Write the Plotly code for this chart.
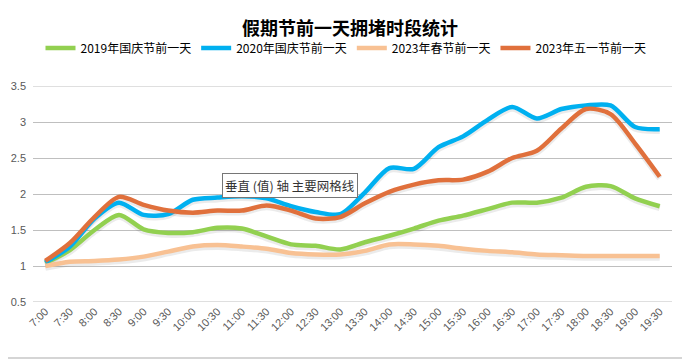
import plotly.graph_objects as go

times = ["7:00","7:30","8:00","8:30","9:00","9:30","10:00","10:30","11:00","11:30",
         "12:00","12:30","13:00","13:30","14:00","14:30","15:00","15:30","16:00","16:30",
         "17:00","17:30","18:00","18:30","19:00","19:30"]

s2019 = [1.04,1.22,1.50,1.71,1.51,1.46,1.47,1.53,1.52,1.41,1.30,1.28,1.23,1.33,1.42,1.52,
         1.63,1.70,1.79,1.88,1.88,1.95,2.10,2.11,1.94,1.83]
s2020 = [1.05,1.27,1.66,1.88,1.71,1.72,1.92,1.95,1.97,1.94,1.83,1.75,1.72,2.02,2.36,2.35,
         2.65,2.80,3.03,3.21,3.05,3.18,3.23,3.23,2.93,2.90]
s2023spring = [1.00,1.06,1.07,1.09,1.13,1.20,1.27,1.29,1.27,1.24,1.18,1.16,1.16,1.21,1.30,1.30,
               1.28,1.24,1.21,1.19,1.16,1.15,1.14,1.14,1.14,1.14]
s2023may = [1.07,1.32,1.68,1.96,1.85,1.77,1.74,1.77,1.77,1.84,1.77,1.66,1.68,1.87,2.03,2.13,
            2.19,2.20,2.31,2.50,2.60,2.91,3.18,3.11,2.70,2.24]

names = ["2019年国庆节前一天", "2020年国庆节前一天", "2023年春节前一天", "2023年五一节前一天"]
colors = ["#92D050", "#00B0F0", "#F8C193", "#E0703C"]
series = [s2019, s2020, s2023spring, s2023may]

SHADOW_DY = 0.025  # soft drop shadow under each line, in data units

fig = go.Figure()
# soft shadows (drawn first, below the lines)
for ys in series:
    fig.add_trace(go.Scatter(
        x=times, y=[v - SHADOW_DY for v in ys], mode="lines", showlegend=False,
        line=dict(color="rgba(0,0,0,0.08)", width=6, shape="spline", smoothing=0.8),
        hoverinfo="skip"))
for name, col, ys in zip(names, colors, series):
    fig.add_trace(go.Scatter(
        x=times, y=ys, name=name, mode="lines",
        line=dict(color=col, width=4.5, shape="spline", smoothing=0.8),
        hoverinfo="skip"))

# the page body adds an 8px margin, so lay out in window pixels minus that offset
OFF = 8
W, H = 690 - OFF, 360 - OFF
PLOT_L, PLOT_R, PLOT_T, PLOT_B = 33, 672, 86, 302  # plot area in window pixels
L = PLOT_L - OFF
T = PLOT_T - OFF
R = W - (PLOT_R - OFF)
B = H - (PLOT_B - OFF)
pw, ph = W - L - R, H - T - B

def px2x(px):
    return (px - PLOT_L) / pw

def py2y(py):
    return (PLOT_B - py) / ph

fig.update_layout(
    width=W, height=H,
    margin=dict(l=L, r=R, t=T, b=B, autoexpand=False),
    paper_bgcolor="white", plot_bgcolor="white",
    font=dict(family="Noto Sans CJK SC, sans-serif", color="#404040"),
    title=dict(text="<b>假期节前一天拥堵时段统计</b>", x=px2x(350), xanchor="center",
               xref="paper",
               y=1 - (29 - OFF) / H, yanchor="middle",
               font=dict(size=18, color="#000000", family="Noto Sans CJK SC")),
    showlegend=True,
    legend=dict(orientation="h", x=px2x(346), xanchor="center", y=py2y(48), yanchor="middle",
                font=dict(size=12, color="#000000", family="Noto Sans CJK SC"),
                itemwidth=30, tracegroupgap=0, bgcolor="rgba(0,0,0,0)"),
    xaxis=dict(type="category", range=[-0.5, 25.5], showgrid=False, automargin=False,
               showline=False, ticks="", tickangle=-45,
               tickfont=dict(size=11, color="#595959", family="Liberation Sans")),
    yaxis=dict(range=[0.5, 3.5], dtick=0.5, tick0=0.5, showgrid=True, automargin=False,
               gridcolor="#BFBFBF", gridwidth=1, zeroline=False, showline=False,
               ticks="", ticklabelstandoff=6,
               tickfont=dict(size=11, color="#595959", family="Liberation Sans")),
)

# gridlines at range edges (0.5 and 3.5) as shapes to be safe
for yv in (0.5, 3.5):
    fig.add_shape(type="line", xref="paper", yref="y", x0=0, x1=1, y0=yv, y1=yv,
                  line=dict(color="#BFBFBF", width=1), layer="below")

# outer chart frame (right and bottom edges visible)
fig.add_shape(type="rect", xref="paper", yref="paper",
              x0=px2x(-2), x1=px2x(688), y0=py2y(358), y1=py2y(1),
              line=dict(color="#C8C8C8", width=1.5), fillcolor="rgba(0,0,0,0)")

# hover tooltip seen in the reference
fig.add_annotation(xref="paper", yref="paper", x=px2x(222), y=py2y(185),
                   xanchor="left", yanchor="middle", showarrow=False,
                   text="垂直 (值) 轴 主要网格线",
                   font=dict(size=12.5, color="#333333", family="Noto Sans CJK SC"),
                   bgcolor="white", bordercolor="#767676", borderwidth=1, borderpad=2)

fig.write_html("out.html")
